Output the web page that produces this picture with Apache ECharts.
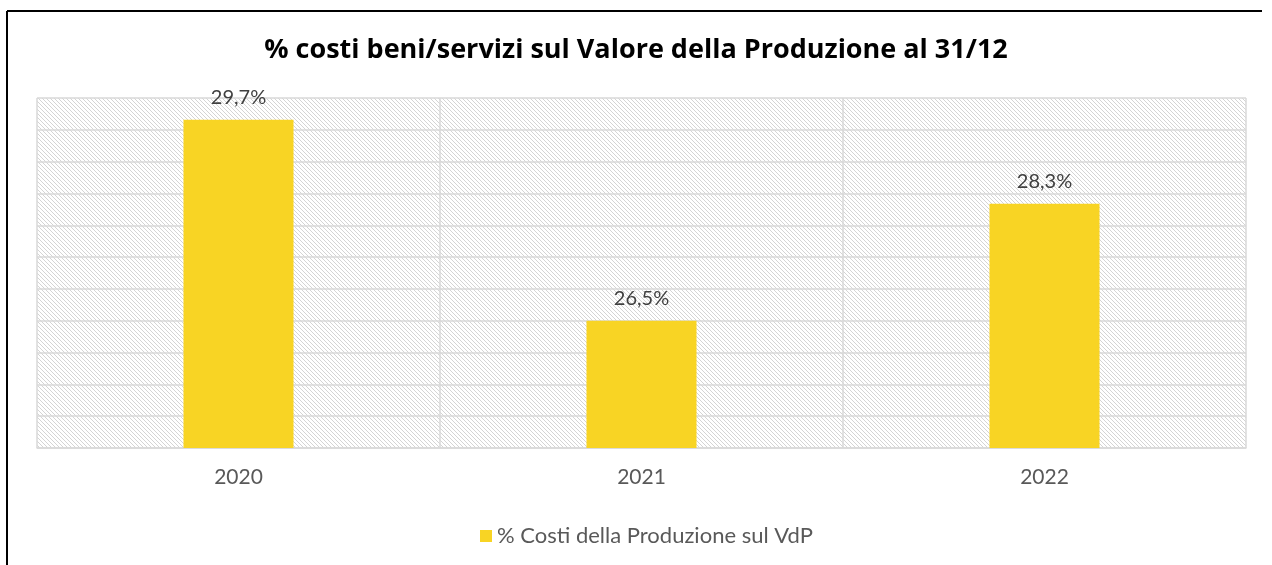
<!DOCTYPE html>
<html>
<head>
    <meta charset="utf-8">
    <title>% costi beni/servizi</title>
    <script src="https://cdn.jsdelivr.net/npm/echarts@6/dist/echarts.min.js"></script>
    <style>
        html, body { margin: 0; padding: 0; background: #fff; }
        #chartmain { width: 1272px; height: 565px; }
    </style>
</head>
<body>
    <div id="chartmain"></div>

    <script type="text/javascript">
        // dati (altezze stimate dalle barre, etichette arrotondate a 1 decimale)
        var anni = ['2020', '2021', '2022'];
        var percCosti = [29.66, 26.5, 28.34];
        var nomeSerie = '% Costi della Produzione sul VdP';

        // sfondo a righe diagonali (come il motivo di Excel)
        function tratteggio() {
            var c = document.createElement('canvas');
            c.width = 4;
            c.height = 4;
            var ctx = c.getContext('2d');
            ctx.fillStyle = '#ffffff';
            ctx.fillRect(0, 0, 4, 4);
            ctx.strokeStyle = '#d4d4d4';
            ctx.lineWidth = 1;
            ctx.beginPath();
            ctx.moveTo(-1, -1); ctx.lineTo(5, 5);
            ctx.moveTo(-1, 3); ctx.lineTo(1, 5);
            ctx.moveTo(3, -1); ctx.lineTo(5, 1);
            ctx.stroke();
            return c;
        }

        var myChart = echarts.init(document.getElementById('chartmain'));
        var font = 'Lato, "Open Sans", sans-serif';

        myChart.setOption({
            animation: false,
            textStyle: { fontFamily: font },
            title: {
                text: '% costi beni/servizi sul Valore della Produzione al 31/12',
                left: 'center',
                top: 32,
                textStyle: { fontSize: 27, fontWeight: 'bold', color: '#000', fontFamily: '"Open Sans", sans-serif' }
            },
            graphic: [
                { type: 'line', shape: { x1: 7, y1: 11, x2: 1262, y2: 11 }, style: { stroke: '#000', lineWidth: 2 } },
                { type: 'line', shape: { x1: 7, y1: 11, x2: 7, y2: 565 }, style: { stroke: '#000', lineWidth: 2 } }
            ],
            legend: {
                data: [nomeSerie],
                left: 475,
                top: 520,
                itemWidth: 12,
                itemHeight: 12,
                itemGap: 6,
                icon: 'rect',
                textStyle: { fontSize: 22, color: '#595959', fontFamily: font }
            },
            grid: {
                left: 37,
                right: 26,
                top: 98,
                bottom: 117,
                show: true,
                borderWidth: 0,
                backgroundColor: { image: tratteggio(), repeat: 'repeat' }
            },
            xAxis: {
                type: 'category',
                data: anni,
                axisTick: { show: false },
                axisLine: { lineStyle: { color: '#d9d9d9', width: 1.5 } },
                axisLabel: { fontSize: 21, color: '#595959', margin: 19 },
                splitLine: { show: true, lineStyle: { color: '#d9d9d9', width: 1.5 } }
            },
            yAxis: {
                type: 'value',
                min: 24.5,
                max: 30,
                interval: 0.5,
                axisLabel: { show: false },
                axisLine: { show: false },
                axisTick: { show: false },
                splitLine: { lineStyle: { color: '#d9d9d9', width: 1.5 } }
            },
            series: [
                {
                    name: nomeSerie,
                    type: 'bar',
                    data: percCosti,
                    barWidth: '27.3%',
                    itemStyle: { color: '#F8D424' },
                    label: {
                        show: true,
                        position: 'top',
                        distance: 12,
                        fontSize: 20,
                        color: '#404040',
                        formatter: function (p) {
                            return p.value.toFixed(1).replace('.', ',') + '%';
                        }
                    }
                }
            ]
        });
    </script>
</body>
</html>
